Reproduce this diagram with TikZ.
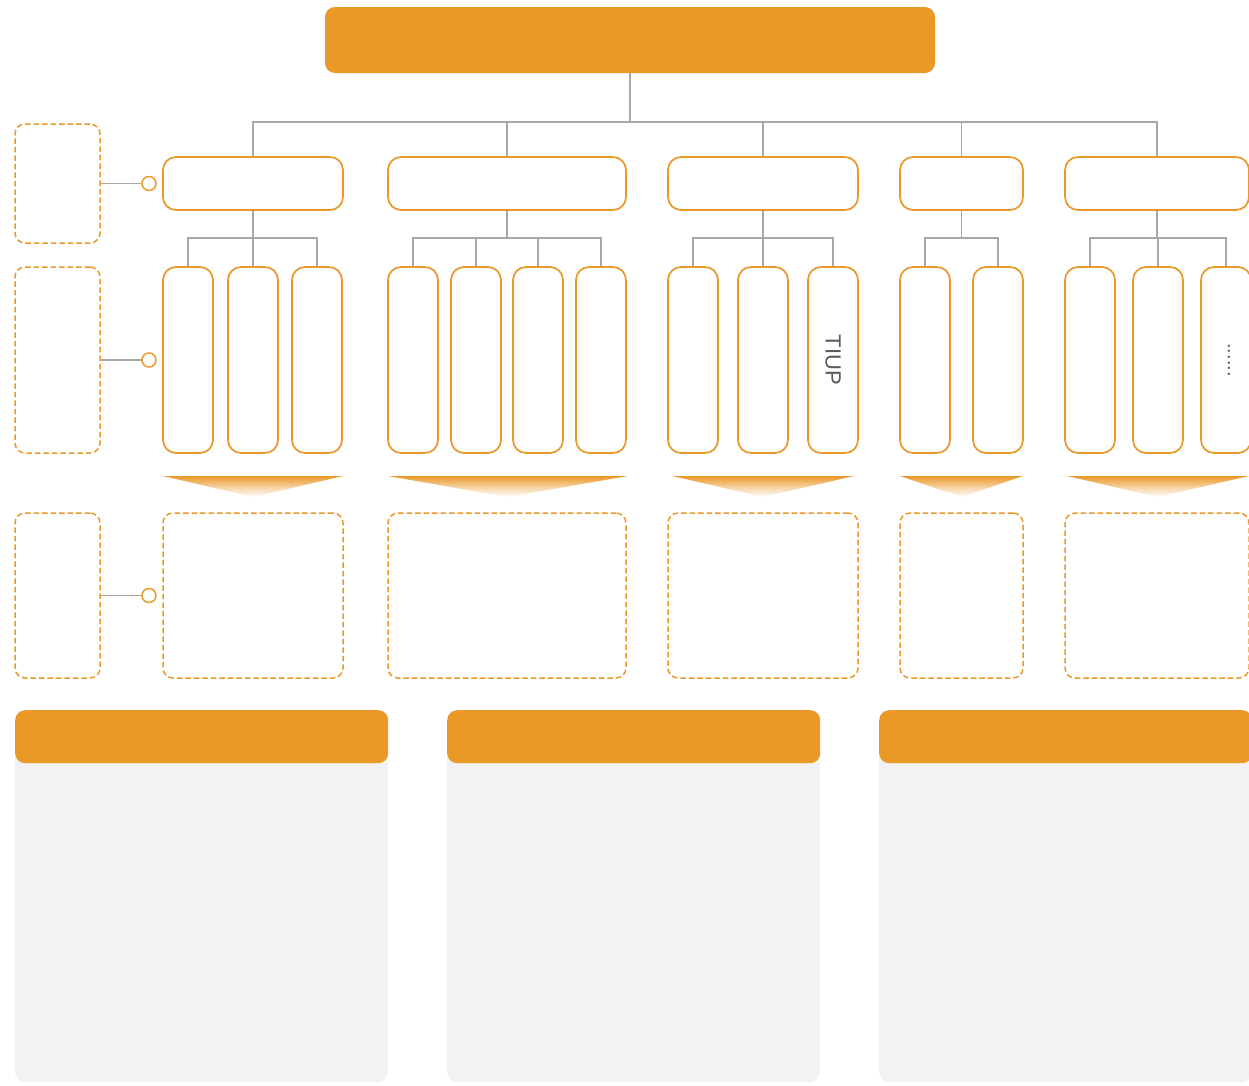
\documentclass[tikz,border=0pt]{standalone}
\usepackage{fontspec}
\setmainfont{Liberation Sans}
\definecolor{orng}{HTML}{EA9828}
\definecolor{lnk}{HTML}{A8A8A8}
\definecolor{pnl}{HTML}{F1F2F1}
\definecolor{txt}{HTML}{5A5A5A}
\tikzset{
  conn/.style={draw=lnk, line width=1.6pt},
  headbox/.style={fill=orng, rounded corners=10pt, inner sep=0pt},
  lvone/.style={draw=orng, fill=white, line width=1.7pt, rounded corners=13pt, minimum height=53pt, inner sep=0pt},
  leafbox/.style={draw=orng, fill=white, line width=1.7pt, rounded corners=13pt, minimum width=50pt, minimum height=186pt, inner sep=0pt},
  dbox/.style={draw=orng, line width=1.5pt, dash pattern=on 5.5pt off 3pt, rounded corners=10pt, inner sep=0pt},
  circ/.style={circle, draw=orng, fill=white, line width=1.5pt, minimum size=14pt, inner sep=0pt},
  tri/.style={top color=orng, bottom color=white, middle color=orng!45},
}
\begin{document}
\begin{tikzpicture}[x=1pt,y=-1pt]
\useasboundingbox (0,0) rectangle (1249,1085);
% top
\node[headbox, minimum width=610pt, minimum height=66pt] (top) at (630,40) {};
\coordinate (bus) at (630,122);
% level 1
\node[lvone, minimum width=180pt] (a) at (253,183.5) {};
\node[lvone, minimum width=238pt] (b) at (507,183.5) {};
\node[lvone, minimum width=190pt] (c) at (763,183.5) {};
\node[lvone, minimum width=123pt] (d) at (961.5,183.5) {};
\node[lvone, minimum width=184pt] (e) at (1157,183.5) {};
\foreach \n in {a,b,c,d,e}{
  \draw[conn] (top.south) -- (bus) -| (\n.north);
}
% leaves
\node[leafbox] (a1) at (188,360) {};
\node[leafbox] (a2) at (253,360) {};
\node[leafbox] (a3) at (317,360) {};
\node[leafbox] (b1) at (413,360) {};
\node[leafbox] (b2) at (476,360) {};
\node[leafbox] (b3) at (538,360) {};
\node[leafbox] (b4) at (601,360) {};
\node[leafbox] (c1) at (693,360) {};
\node[leafbox] (c2) at (763,360) {};
\node[leafbox] (c3) at (833,360) {};
\node[leafbox] (d1) at (925,360) {};
\node[leafbox] (d2) at (998,360) {};
\node[leafbox] (e1) at (1090,360) {};
\node[leafbox] (e2) at (1158,360) {};
\node[leafbox] (e3) at (1226,360) {};
\node[rotate=-90, text=txt, font=\fontsize{22}{24}\selectfont, inner sep=0pt] (tiup) at (c3.center) {TIUP};
\node[rotate=-90, text=txt, font=\fontsize{20}{22}\selectfont, inner sep=0pt] (dots) at (1229,360) {......};
\foreach \p/\kids in {a/{a1,a2,a3}, b/{b1,b2,b3,b4}, c/{c1,c2,c3}, d/{d1,d2}, e/{e1,e2,e3}}{
  \foreach \k in \kids {
    \draw[conn] (\p.south) -- ++(0,27) -| (\k.north);
  }
}
% triangles
\shade[tri] (163,476) -- (343,476) -- (253,497) -- cycle;
\shade[tri] (388,476) -- (628,476) -- (507,497) -- cycle;
\shade[tri] (672,476) -- (854,476) -- (763,497) -- cycle;
\shade[tri] (900,476) -- (1023,476) -- (961.5,497) -- cycle;
\shade[tri] (1067,476) -- (1249,476) -- (1157,497) -- cycle;
% dashed result boxes
\node[dbox, minimum width=180pt, minimum height=165pt] (ra) at (253,595.5) {};
\node[dbox, minimum width=238pt, minimum height=165pt] (rb) at (507,595.5) {};
\node[dbox, minimum width=190pt, minimum height=165pt] (rc) at (763,595.5) {};
\node[dbox, minimum width=123pt, minimum height=165pt] (rd) at (961.5,595.5) {};
\node[dbox, minimum width=184pt, minimum height=165pt] (re) at (1157,595.5) {};
% left labels
\node[dbox, minimum width=85pt, minimum height=119pt] (l1) at (57.5,183.5) {};
\node[dbox, minimum width=85pt, minimum height=186pt] (l2) at (57.5,360) {};
\node[dbox, minimum width=85pt, minimum height=165pt] (l3) at (57.5,595.5) {};
\node[circ] (k1) at (149,183.5) {};
\node[circ] (k2) at (149,360) {};
\node[circ] (k3) at (149,595.5) {};
\draw[conn] (l1.east) -- (k1.west);
\draw[conn] (l2.east) -- (k2.west);
\draw[conn] (l3.east) -- (k3.west);
% bottom panels
\foreach \x/\nm in {15/p1, 447/p2, 879/p3}{
  \fill[pnl, rounded corners=10pt] (\x,740) rectangle ++(373,342);
  \fill[pnl] (\x,740) rectangle ++(373,20);
  \node[headbox, anchor=north west, minimum width=373pt, minimum height=53pt] (\nm) at (\x,710) {};
}
\end{tikzpicture}
\end{document}
